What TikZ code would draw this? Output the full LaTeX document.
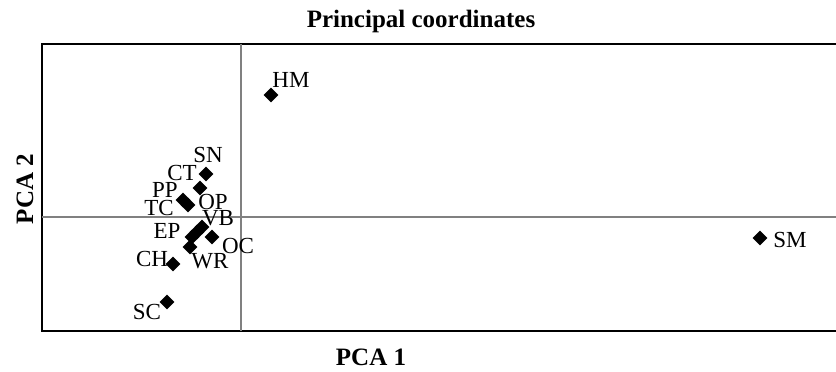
\documentclass[tikz,border=0pt]{standalone}
\usepackage{fontspec}
\setmainfont{Liberation Serif}
\usetikzlibrary{shapes.geometric}
\tikzset{
  pt/.style={diamond,fill=black,inner sep=0pt,minimum size=7.5pt},
  lbl/.style={inner sep=0pt,font=\fontsize{11.5}{13}\selectfont},
  axtitle/.style={inner sep=0pt,font=\fontsize{12.5}{14}\selectfont\bfseries}
}
\begin{document}
\begin{tikzpicture}[x=0.5pt,y=-0.5pt]
        \useasboundingbox (0,0) rectangle (836,371);
        %% frame and zero lines
        \draw[line width=1.1pt] (842,44) -- (42,44) -- (42,331) -- (842,331);
        \coordinate (xa) at (42,217);
        \coordinate (xb) at (836,217);
        \coordinate (ya) at (241,44);
        \coordinate (yb) at (241,331);
        \draw[gray,line width=0.6pt] (xa) -- (xb);
        \draw[gray,line width=0.6pt] (ya) -- (yb);
        %% titles
        \node[axtitle,anchor=base] (title) at (421,27) {Principal coordinates};
        \node[axtitle,anchor=base] (pcax) at (371,365) {PCA 1};
        \node[axtitle,anchor=base,rotate=90] (pcay) at (33,189) {PCA 2};
        %% points
        \node[pt] (hm) at (271,95) {};
        \node[pt] (sn) at (206,174) {};
        \node[pt] (op) at (200,188) {};
        \node[pt] (pp) at (183,200) {};
        \node[pt] (tc) at (188,205) {};
        \node[pt] (vb) at (202,227) {};
        \node[pt] (ep) at (197,232) {};
        \node[pt] (ep2) at (192,237) {};
        \node[pt] (oc) at (212,237) {};
        \node[pt] (wr) at (190,247) {};
        \node[pt] (ch) at (173,264) {};
        \node[pt] (sc) at (167,302) {};
        \node[pt] (sm) at (760,238) {};
        %% labels
        \node[lbl] (hmlab) at (291,80) {HM};
        \node[lbl] (snlab) at (208,155) {SN};
        \node[lbl] (ctlab) at (182,173) {CT};
        \node[lbl] (pplab) at (165,190) {PP};
        \node[lbl] (oplab) at (213,202) {OP};
        \node[lbl] (tclab) at (159,208) {TC};
        \node[lbl] (vblab) at (218,218) {VB};
        \node[lbl] (eplab) at (167,231) {EP};
        \node[lbl] (oclab) at (238,246) {OC};
        \node[lbl] (chlab) at (152,259) {CH};
        \node[lbl] (wrlab) at (210,261) {WR};
        \node[lbl] (sclab) at (147,312) {SC};
        \node[lbl] (smlab) at (790,240) {SM};
    \end{tikzpicture}
\end{document}
